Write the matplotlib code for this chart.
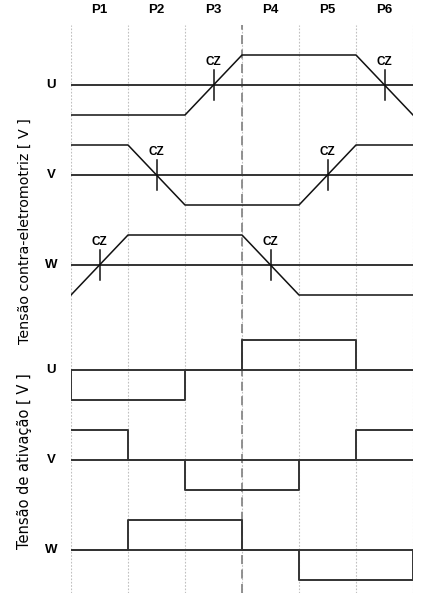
import matplotlib
matplotlib.use("Agg")
import matplotlib.pyplot as plt
import numpy as np

# ---- data ----
phases = ["P1", "P2", "P3", "P4", "P5", "P6"]
boundaries = [0, 1, 2, 3, 4, 5, 6]
signals = ["U", "V", "W"]
# back-EMF values at phase boundaries (trapezoidal)
emf_U = [-1, -1, -1, 1, 1, 1, -1]
emf_V = [1, 1, -1, -1, -1, 1, 1]
emf_W = [-1, 1, 1, 1, -1, -1, -1]
# activation levels per phase
act_U = [-1, -1, 0, 1, 1, 0]
act_V = [1, 0, -1, -1, 0, 1]
act_W = [0, 1, 1, 0, -1, -1]
cz_label = "CZ"
ylabel_top = "Tensão contra-eletromotriz [ V ]"
ylabel_bottom = "Tensão de ativação [ V ]"

emfs = [emf_U, emf_V, emf_W]
acts = [act_U, act_V, act_W]

# ---- layout ----
W, H = 436, 616
fig = plt.figure(figsize=(W / 100, H / 100), dpi=100)
x0, x1 = 71, 413
ytop, ybot = 25, 593
ax = fig.add_axes([x0 / W, (H - ybot) / H, (x1 - x0) / W, (ybot - ytop) / H])
unit = 30.0  # px per amplitude unit
ax.set_xlim(0, 6)
ax.set_ylim(-(ybot - 85) / unit, (85 - ytop) / unit)
ax.axis("off")

emf_offsets = [0, -3, -6]
act_offsets = [-9.5, -12.5, -15.5]
line_col = "#333333"
lw = 1.4

# grid lines
for b in boundaries:
    ax.axvline(b, color="#c0c0c0", lw=0.8, ls=(0, (1.5, 1.5)), zorder=0)
ax.axvline(3, color="#888888", lw=1.3, ls=(0, (5, 3)), zorder=1)

bold = dict(family=["Liberation Sans", "DejaVu Sans"], fontweight="bold")

# phase labels
for i, p in enumerate(phases):
    ax.text(i + 0.5, (85 - 10) / unit, p, ha="center", va="center",
            fontsize=9.5, clip_on=False, **bold)

# back-EMF
for name, vals, off in zip(signals, emfs, emf_offsets):
    ax.plot([0, 6], [off, off], color=line_col, lw=lw, solid_capstyle="butt")
    ax.plot(boundaries, np.array(vals) + off, color="#111111", lw=1.1)
    # zero crossings
    for k in range(len(vals) - 1):
        a, b = vals[k], vals[k + 1]
        if a * b < 0:
            xc = boundaries[k] + (0 - a) / (b - a) * (boundaries[k + 1] - boundaries[k])
            ax.plot([xc, xc], [off - 0.5, off + 0.5], color="#111111", lw=1.1)
            ax.text(xc, off + 0.78, cz_label, ha="center", va="center",
                    fontsize=8.5, **bold)
    ax.text(-20 / 57.0, off, name, ha="center", va="center", fontsize=9.5,
            clip_on=False, **bold)

# activation
for j, (name, vals, off) in enumerate(zip(signals, acts, act_offsets)):
    ax.plot([0, 6], [off, off], color=line_col, lw=lw, solid_capstyle="butt")
    xs, ys = [], []
    if j == 0:
        xs.append(0); ys.append(0)
    for i, v in enumerate(vals):
        xs += [i, i + 1]
        ys += [v, v]
    if j == 2:
        xs.append(6); ys.append(0)
    ax.plot(xs, np.array(ys) + off, color=line_col, lw=lw)
    ax.text(-20 / 57.0, off, name, ha="center", va="center", fontsize=9.5,
            clip_on=False, **bold)

fig.text(25 / W, 1 - 231 / H, ylabel_top, rotation=90, ha="center",
         va="center", fontsize=10.3, family="DejaVu Sans")
fig.text(25 / W, 1 - 461 / H, ylabel_bottom, rotation=90, ha="center",
         va="center", fontsize=10.5, family="DejaVu Sans")

fig.savefig("out.png", dpi=100)
